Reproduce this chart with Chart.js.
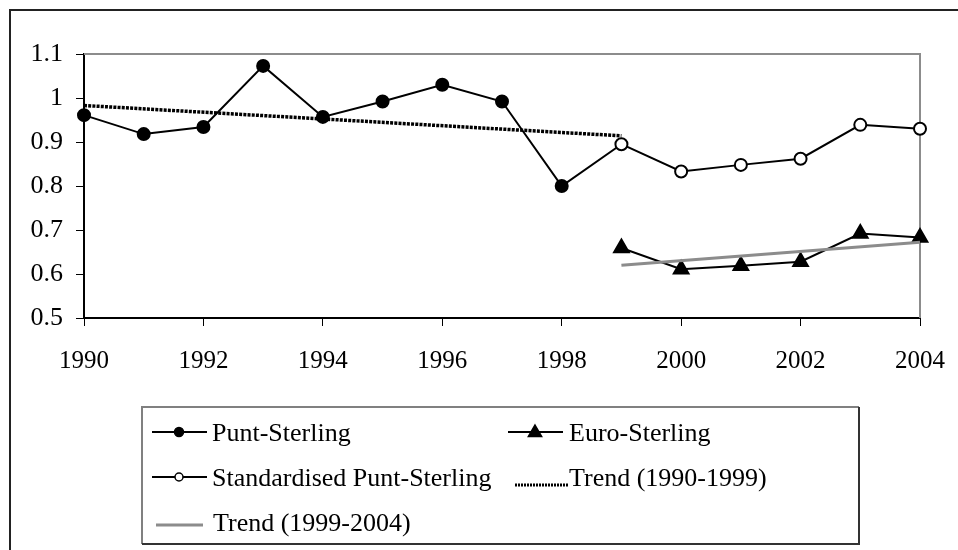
<!DOCTYPE html>
<html>
<head>
<meta charset="utf-8">
<script src="https://cdn.jsdelivr.net/npm/chart.js@4.4.1/dist/chart.umd.min.js"></script>
<style>
  html, body { margin: 0; padding: 0; background: #fff; }
  #wrap { width: 958px; height: 550px; }
</style>
</head>
<body>
<div id="wrap"><canvas id="chart" width="958" height="550"></canvas></div>
<script>
// data
const puntYears = [1990, 1991, 1992, 1993, 1994, 1995, 1996, 1997, 1998, 1999];
const puntSterling = [0.961, 0.918, 0.934, 1.073, 0.957, 0.992, 1.030, 0.992, 0.800, 0.895];

const euroYears = [1999, 2000, 2001, 2002, 2003, 2004];
const standardised = [0.895, 0.833, 0.848, 0.862, 0.939, 0.930];
const euroSterling = [0.659, 0.611, 0.619, 0.628, 0.692, 0.683];

const trend1Years = [1990, 1999];
const trend1 = [0.983, 0.914];
const trend2Years = [1999, 2004];
const trend2 = [0.620, 0.672];

const xTicks = [1990, 1992, 1994, 1996, 1998, 2000, 2002, 2004];
const yTicks = [0.5, 0.6, 0.7, 0.8, 0.9, 1.0, 1.1];

const serif = "'Liberation Serif', 'Times New Roman', serif";

function pts(xs, ys) {
  return xs.map((x, i) => ({ x: x, y: ys[i] }));
}

const datasets = [
  {
    label: "Punt-Sterling",
    data: pts(puntYears, puntSterling),
    borderColor: "#000", backgroundColor: "#000", borderWidth: 2,
    pointStyle: "circle",
    // last point sits under the open circle of the standardised series
    pointRadius: puntSterling.map((v, i) => i === puntSterling.length - 1 ? 0 : 6),
    clip: false,
    order: 2
  },
  {
    label: "Euro-Sterling",
    data: pts(euroYears, euroSterling),
    borderColor: "#000", backgroundColor: "#000", borderWidth: 2,
    pointStyle: "triangle", pointRadius: 8.5,
    clip: false,
    order: 2
  },
  {
    label: "Standardised Punt-Sterling",
    data: pts(euroYears, standardised),
    borderColor: "#000", backgroundColor: "#fff", borderWidth: 2,
    pointStyle: "circle", pointRadius: 6, pointBorderWidth: 2,
    clip: false,
    order: 0
  },
  {
    label: "Trend (1990-1999)",
    data: pts(trend1Years, trend1),
    borderColor: "#000", borderWidth: 3.5, borderDash: [3, 1.2],
    pointRadius: 0,
    clip: false,
    order: 1
  },
  {
    label: "Trend (1999-2004)",
    data: pts(trend2Years, trend2),
    borderColor: "#8c8c8c", borderWidth: 3,
    pointRadius: 0,
    clip: false,
    order: 1
  }
];

function marker(ctx, style, x, y, r, fill) {
  ctx.save();
  ctx.setLineDash([]);
  ctx.fillStyle = fill;
  ctx.strokeStyle = "#000";
  ctx.lineWidth = 1.5;
  ctx.beginPath();
  if (style === "triangle") {
    ctx.moveTo(x, y - r);
    ctx.lineTo(x + r * 0.95, y + r * 0.65);
    ctx.lineTo(x - r * 0.95, y + r * 0.65);
    ctx.closePath();
  } else {
    ctx.arc(x, y, r, 0, Math.PI * 2);
  }
  ctx.fill();
  ctx.stroke();
  ctx.restore();
}

function sample(ctx, ds, x1, x2, y) {
  ctx.save();
  ctx.strokeStyle = ds.borderColor;
  ctx.lineWidth = ds.borderDash ? 3 : ds.borderWidth;
  ctx.setLineDash(ds.borderDash ? [2, 1] : []);
  ctx.beginPath();
  ctx.moveTo(x1, y);
  ctx.lineTo(x2, y);
  ctx.stroke();
  ctx.restore();
}

const frame = {
  id: "frame",
  beforeDraw(chart) {
    const ctx = chart.ctx;
    ctx.save();
    ctx.fillStyle = "#fff";
    ctx.fillRect(0, 0, chart.width, chart.height);
    ctx.restore();
  },
  beforeDatasetsDraw(chart) {
    const a = chart.chartArea, ctx = chart.ctx;
    ctx.save();
    ctx.strokeStyle = "#8c8c8c";
    ctx.lineWidth = 2;
    ctx.beginPath();
    ctx.moveTo(a.left, a.top);
    ctx.lineTo(a.right, a.top);
    ctx.lineTo(a.right, a.bottom);
    ctx.stroke();
    ctx.restore();
  },
  afterDraw(chart) {
    const ctx = chart.ctx;
    const ds = chart.data.datasets;
    ctx.save();
    // outer chart border
    ctx.strokeStyle = "#222";
    ctx.lineWidth = 2;
    ctx.beginPath();
    ctx.moveTo(10, chart.height);
    ctx.lineTo(10, 10);
    ctx.lineTo(chart.width, 10);
    ctx.stroke();

    // legend box
    const L = 142, T = 407, R = 859, B = 544;
    ctx.lineWidth = 2;
    ctx.strokeStyle = "#808080";
    ctx.beginPath();
    ctx.moveTo(L, B); ctx.lineTo(L, T); ctx.lineTo(R, T);
    ctx.stroke();
    ctx.strokeStyle = "#333";
    ctx.beginPath();
    ctx.moveTo(R, T); ctx.lineTo(R, B); ctx.lineTo(L, B);
    ctx.stroke();

    ctx.font = "26px " + serif;
    ctx.fillStyle = "#000";
    ctx.textBaseline = "middle";
    ctx.textAlign = "left";

    // row 1
    sample(ctx, ds[0], 152, 207, 432);
    marker(ctx, "circle", 179, 432, 4.5, "#000");
    ctx.fillText(ds[0].label, 212, 434);
    sample(ctx, ds[1], 508, 563, 432);
    marker(ctx, "triangle", 535, 432, 7, "#000");
    ctx.fillText(ds[1].label, 569, 434);

    // row 2
    sample(ctx, ds[2], 152, 207, 477);
    marker(ctx, "circle", 179, 477, 4, "#fff");
    ctx.fillText(ds[2].label, 212, 479);
    sample(ctx, ds[3], 515, 569, 485);
    ctx.fillText(ds[3].label, 569, 479);

    // row 3
    sample(ctx, ds[4], 156, 203, 525);
    ctx.fillText(ds[4].label, 213, 524);
    ctx.restore();
  }
};

new Chart(document.getElementById("chart"), {
  type: "line",
  data: { datasets: datasets },
  options: {
    responsive: false,
    animation: false,
    devicePixelRatio: 1,
    layout: { padding: { left: 0, top: 54, right: 38, bottom: 0 } },
    plugins: { legend: { display: false }, tooltip: { enabled: false } },
    elements: { line: { tension: 0 } },
    scales: {
      x: {
        type: "linear",
        min: 1990,
        max: 2004,
        afterBuildTicks: (s) => { s.ticks = xTicks.map(v => ({ value: v })); },
        afterFit: (s) => { s.height = 232; s.paddingLeft = 0; s.paddingRight = 0; },
        ticks: {
          callback: (v) => String(v),
          color: "#000",
          font: { family: serif, size: 25 },
          padding: 20,
          maxRotation: 0
        },
        grid: { display: true, drawOnChartArea: false, drawTicks: true, tickLength: 8, color: "#000", lineWidth: 1 },
        border: { display: true, color: "#000", width: 2 }
      },
      y: {
        min: 0.5,
        max: 1.1,
        afterBuildTicks: (s) => { s.ticks = yTicks.map(v => ({ value: v })); },
        afterFit: (s) => { s.width = 84; s.paddingTop = 0; s.paddingBottom = 0; },
        ticks: {
          callback: (v) => String(Math.round(v * 10) / 10),
          color: "#000",
          font: { family: serif, size: 26 },
          padding: 13
        },
        grid: { display: true, drawOnChartArea: false, drawTicks: true, tickLength: 8, color: "#000", lineWidth: 1 },
        border: { display: true, color: "#000", width: 2 }
      }
    }
  },
  plugins: [frame]
});
</script>
</body>
</html>
